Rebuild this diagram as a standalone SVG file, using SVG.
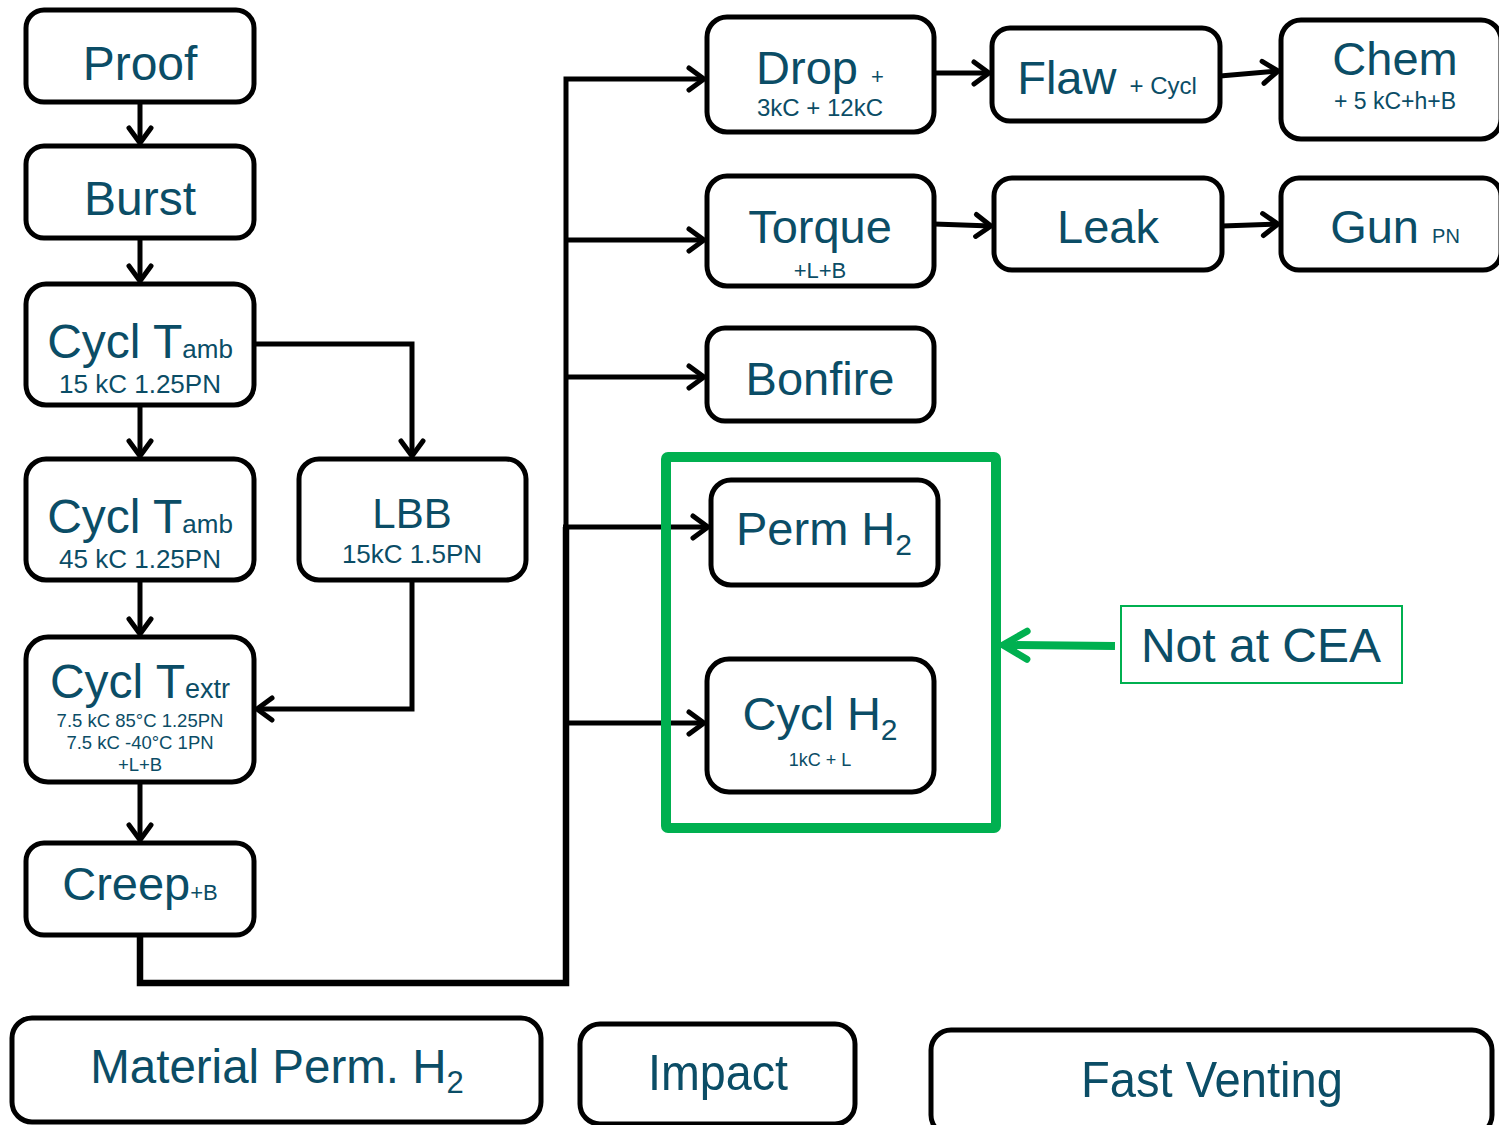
<svg xmlns="http://www.w3.org/2000/svg" width="1499" height="1125" viewBox="0 0 1499 1125">
<style>
.box{fill:#fff;stroke:#000;stroke-width:5}
.t{font-family:"Liberation Sans",Arial,sans-serif;fill:#0b4d66;text-anchor:middle}
.c{fill:none;stroke:#000;stroke-width:5}
.g{fill:none;stroke:#00b050}
</style>
<defs>
<marker id="ah" markerUnits="userSpaceOnUse" viewBox="-22 -16 26 32" markerWidth="26" markerHeight="32" refX="0" refY="0" orient="auto">
<path d="M-15,-11 L0,0 L-15,11" fill="none" stroke="#000" stroke-width="5" stroke-linecap="round" stroke-linejoin="round"/>
</marker>
<marker id="ahg" markerUnits="userSpaceOnUse" viewBox="-30 -20 34 40" markerWidth="34" markerHeight="40" refX="0" refY="0" orient="auto">
<path d="M-24,-14 L0,0 L-24,14" fill="none" stroke="#00b050" stroke-width="7" stroke-linecap="round" stroke-linejoin="round"/>
</marker>
</defs>

<g id="connectors">
<path class="c" d="M140,102 V143" marker-end="url(#ah)"/>
<path class="c" d="M140,238 V281" marker-end="url(#ah)"/>
<path class="c" d="M140,405 V456" marker-end="url(#ah)"/>
<path class="c" d="M254,344 H412 V456" marker-end="url(#ah)"/>
<path class="c" d="M140,580 V634" marker-end="url(#ah)"/>
<path class="c" d="M412,580 V709 H257" marker-end="url(#ah)"/>
<path class="c" d="M140,782 V840" marker-end="url(#ah)"/>
<path class="c" d="M140,935 V983 H566 V527" style="stroke-width:6.5"/>
<path class="c" d="M566,530 V79 H704" marker-end="url(#ah)"/>
<path class="c" d="M566,240 H704" marker-end="url(#ah)"/>
<path class="c" d="M566,377 H704" marker-end="url(#ah)"/>
<path class="c" d="M563,527 H708" marker-end="url(#ah)"/>
<path class="c" d="M566,723 H704" marker-end="url(#ah)"/>
<path class="c" d="M934,73 H989" marker-end="url(#ah)"/>
<path class="c" d="M1220,76 L1278,71" marker-end="url(#ah)"/>
<path class="c" d="M934,224 L991,226" marker-end="url(#ah)"/>
<path class="c" d="M1222,226 L1278,224" marker-end="url(#ah)"/>
<path class="g" d="M1115,646 L1003,645" style="stroke-width:8" marker-end="url(#ahg)"/>
</g>

<g id="notcea-group">
<rect class="g" x="666" y="457" width="330" height="371" rx="2" style="stroke-width:10"/>
</g>

<g id="proof"><rect class="box" x="26" y="10" width="228" height="92" rx="18"/><text class="t" x="140" y="80" font-size="48">Proof</text></g>
<g id="burst"><rect class="box" x="26" y="146" width="228" height="92" rx="18"/><text class="t" x="140" y="215" font-size="48">Burst</text></g>
<g id="cycl-tamb-1"><rect class="box" x="26" y="284" width="228" height="121" rx="20"/>
<text class="t" x="140" y="358" font-size="48">Cycl T<tspan font-size="26">amb</tspan></text>
<text class="t" x="140" y="393" font-size="26">15 kC 1.25PN</text></g>
<g id="cycl-tamb-2"><rect class="box" x="26" y="459" width="228" height="121" rx="20"/>
<text class="t" x="140" y="533" font-size="48">Cycl T<tspan font-size="26">amb</tspan></text>
<text class="t" x="140" y="568" font-size="26">45 kC 1.25PN</text></g>
<g id="lbb"><rect class="box" x="299" y="459" width="227" height="121" rx="20"/>
<text class="t" x="412" y="528" font-size="42">LBB</text>
<text class="t" x="412" y="563" font-size="26">15kC 1.5PN</text></g>
<g id="cycl-textr"><rect class="box" x="26" y="637" width="228" height="145" rx="22"/>
<text class="t" x="140" y="698" font-size="48">Cycl T<tspan font-size="27">extr</tspan></text>
<text class="t" x="140" y="727" font-size="18.5">7.5 kC 85°C 1.25PN</text>
<text class="t" x="140" y="749" font-size="18.5">7.5 kC -40°C 1PN</text>
<text class="t" x="140" y="771" font-size="18.5">+L+B</text></g>
<g id="creep"><rect class="box" x="26" y="843" width="228" height="92" rx="18"/>
<text class="t" x="140" y="900" font-size="47">Creep<tspan font-size="22">+B</tspan></text></g>

<g id="drop"><rect class="box" x="707" y="17" width="227" height="115" rx="20"/>
<text class="t" x="820" y="84" font-size="47">Drop <tspan font-size="22">+</tspan></text>
<text class="t" x="820" y="116" font-size="24">3kC + 12kC</text></g>
<g id="flaw"><rect class="box" x="992" y="28" width="228" height="93" rx="18"/>
<text class="t" x="1107" y="94" font-size="47">Flaw <tspan font-size="24">+ Cycl</tspan></text></g>
<g id="chem"><rect class="box" x="1281" y="20" width="220" height="119" rx="20"/>
<text class="t" x="1395" y="75" font-size="47">Chem</text>
<text class="t" x="1395" y="109" font-size="23">+ 5 kC+h+B</text></g>
<g id="torque"><rect class="box" x="707" y="176" width="227" height="110" rx="20"/>
<text class="t" x="820" y="243" font-size="47">Torque</text>
<text class="t" x="820" y="278" font-size="22">+L+B</text></g>
<g id="leak"><rect class="box" x="994" y="178" width="228" height="92" rx="18"/>
<text class="t" x="1108" y="243" font-size="47">Leak</text></g>
<g id="gun"><rect class="box" x="1281" y="178" width="220" height="92" rx="18"/>
<text class="t" x="1395" y="243" font-size="47">Gun <tspan font-size="20">PN</tspan></text></g>
<g id="bonfire"><rect class="box" x="707" y="328" width="227" height="93" rx="18"/>
<text class="t" x="820" y="395" font-size="47">Bonfire</text></g>
<g id="perm-h2"><rect class="box" x="711" y="480" width="227" height="105" rx="20"/>
<text class="t" x="824" y="545" font-size="47">Perm H<tspan font-size="30" dy="10">2</tspan></text></g>
<g id="cycl-h2"><rect class="box" x="707" y="659" width="227" height="133" rx="22"/>
<text class="t" x="820" y="730" font-size="47">Cycl H<tspan font-size="30" dy="10">2</tspan></text>
<text class="t" x="820" y="766" font-size="18">1kC + L</text></g>
<g id="not-at-cea"><rect class="g" x="1121" y="606" width="281" height="77" style="stroke-width:2"/>
<text class="t" x="1261" y="662" font-size="48">Not at CEA</text></g>

<g id="material-perm"><rect class="box" x="12" y="1018" width="529" height="104" rx="20"/>
<text class="t" x="277" y="1083" font-size="47.5">Material Perm. H<tspan font-size="31" dy="10">2</tspan></text></g>
<g id="impact"><rect class="box" x="580" y="1024" width="275" height="100" rx="20"/>
<text class="t" x="718" y="1090" font-size="50" textLength="140" lengthAdjust="spacingAndGlyphs">Impact</text></g>
<g id="fast-venting"><rect class="box" x="931" y="1030" width="561" height="105" rx="20"/>
<text class="t" x="1212" y="1097" font-size="50" textLength="262" lengthAdjust="spacingAndGlyphs">Fast Venting</text></g>
</svg>
